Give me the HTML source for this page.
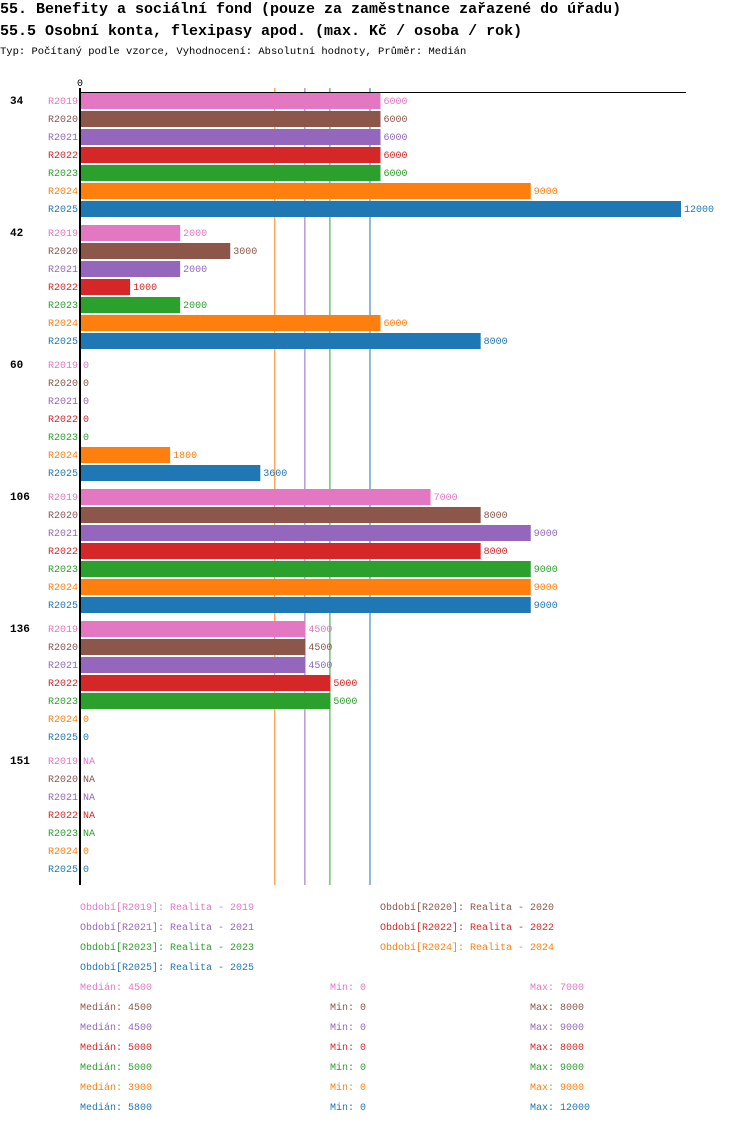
<!DOCTYPE html>
<html><head><meta charset="utf-8"><style>
body{margin:0;background:#fff;width:750px;height:1124px;overflow:hidden;font-family:"Liberation Mono",monospace}
svg text{font-family:"Liberation Mono",monospace}
</style></head><body>
<svg id="c" width="750" height="1124" xmlns="http://www.w3.org/2000/svg">
<text x="0" y="13" font-size="15" font-weight="bold">55. Benefity a sociální fond (pouze za zaměstnance zařazené do úřadu)</text>
<text x="0" y="35" font-size="15" font-weight="bold">55.5 Osobní konta, flexipasy apod. (max. Kč / osoba / rok)</text>
<text x="0" y="54" font-size="10.5">Typ: Počítaný podle vzorce, Vyhodnocení: Absolutní hodnoty, Průměr: Medián</text>
<text x="77" y="86" font-size="10">0</text>
</svg>
<script>
const groups=["34","42","60","106","136","151"];
const series=["R2019","R2020","R2021","R2022","R2023","R2024","R2025"];
const colors=["#e377c2","#8c564b","#9467bd","#d62728","#2ca02c","#ff7f0e","#1f77b4"];
const values=[
 [6000,6000,6000,6000,6000,9000,12000],
 [2000,3000,2000,1000,2000,6000,8000],
 [0,0,0,0,0,1800,3600],
 [7000,8000,9000,8000,9000,9000,9000],
 [4500,4500,4500,5000,5000,0,0],
 [null,null,null,null,null,0,0]];
const medians=[4500,4500,4500,5000,5000,3900,5800];
const mins=[0,0,0,0,0,0,0];
const maxs=[7000,8000,9000,8000,9000,9000,12000];
const medLines=[3900,4500,5000,5800];
const medLineColors=["#ff7f0e","#9467bd","#2ca02c","#1f77b4"];
const legendNames=["Realita - 2019","Realita - 2020","Realita - 2021","Realita - 2022","Realita - 2023","Realita - 2024","Realita - 2025"];
const NS="http://www.w3.org/2000/svg",svg=document.getElementById('c');
const x=v=>80+v*601/12000;
function el(t,a,txt){const e=document.createElementNS(NS,t);for(const k in a)e.setAttribute(k,a[k]);if(txt!=null)e.textContent=txt;svg.appendChild(e);return e;}
medLines.forEach((m,i)=>{
 let ln=el('line',{x1:x(m)-0.5,x2:x(m)-0.5,y1:88,y2:885,stroke:medLineColors[i],'stroke-width':1});
 
 
});
groups.forEach((g,gi)=>{
 const gy=93+gi*132;
 let t=el('text',{x:10,y:gy+11,'font-size':11,'font-weight':'bold'},g);
 
 
 series.forEach((s,si)=>{
  const y=gy+si*18,v=values[gi][si];
  let l=el('text',{x:78,y:y+11,'font-size':10,fill:colors[si],'text-anchor':'end'},s);
  
  
  if(v!=null&&v>0){
   let r=el('rect',{x:x(0),y:y,width:x(v)-x(0),height:16,fill:colors[si]});
   
   
  }
  let vt=el('text',{x:x(v||0)+3,y:y+11,'font-size':10,fill:colors[si]},v==null?'NA':String(v));
  
  
 });
});
let ax=el('line',{x1:79,x2:686,y1:92.5,y2:92.5,stroke:'#000','stroke-width':1});


let ay=el('line',{x1:80,x2:80,y1:88,y2:885,stroke:'#000','stroke-width':2});


series.forEach((s,i)=>{
 const col=i%2,row=Math.floor(i/2);
 let t=el('text',{x:col?380:80,y:910+row*20,'font-size':10,fill:colors[i]},'Období['+s+']: '+legendNames[i]);
 
 
 const y=990+i*20;
 let a=el('text',{x:80,y:y,'font-size':10,fill:colors[i]},'Medián: '+medians[i]);
 
 
 let b=el('text',{x:330,y:y,'font-size':10,fill:colors[i]},'Min: '+mins[i]);
 
 
 let c=el('text',{x:530,y:y,'font-size':10,fill:colors[i]},'Max: '+maxs[i]);
 
 
});
</script>
</body></html>
